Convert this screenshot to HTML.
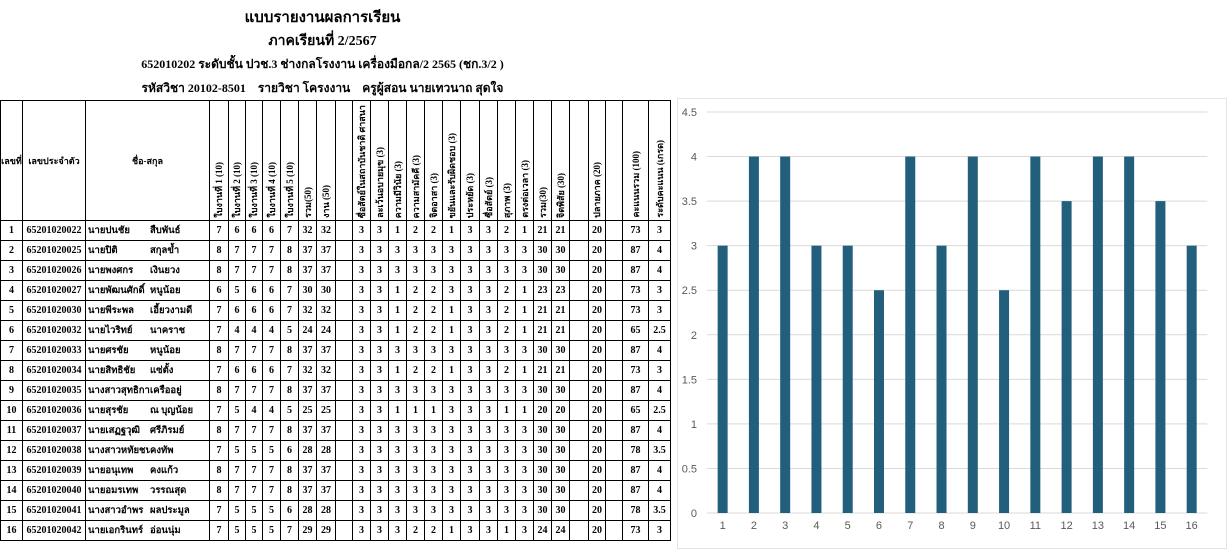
<!DOCTYPE html>
<html><head><meta charset="utf-8">
<style>
body{margin:0;width:1227px;height:549px;background:#fff;overflow:hidden;position:relative;font-family:"Liberation Serif","Noto Serif CJK SC",serif;}
.t{position:absolute;left:0;width:645px;text-align:center;font-weight:bold;color:#000;}
table{position:absolute;left:0;top:100px;border-collapse:collapse;table-layout:fixed;font-size:10px;font-weight:bold;font-family:"Liberation Serif","Noto Sans CJK SC",serif;}
td,th{border:1px solid #000;padding:0;text-align:center;height:19px;overflow:hidden;white-space:nowrap;}
th{height:119px;font-size:9px;vertical-align:bottom;}
th .v{writing-mode:vertical-rl;transform:rotate(180deg);display:inline-block;padding-bottom:2px;}
th.h{vertical-align:middle;}
td.n{text-align:left;padding-left:2px;font-size:9.5px;}
</style></head><body>
<div class="t" style="top:5px;font-size:15px">แบบรายงานผลการเรียน</div>
<div class="t" style="top:30px;font-size:14px">ภาคเรียนที่ 2/2567</div>
<div class="t" style="top:55px;font-size:12px">652010202 ระดับชั้น ปวช.3 ช่างกลโรงงาน เครื่องมือกล/2 2565 (ชก.3/2 )</div>
<div class="t" style="top:79px;font-size:12px">รหัสวิชา 20102-8501 &nbsp;&nbsp; รายวิชา โครงงาน &nbsp;&nbsp; ครูผู้สอน นายเทวนาถ สุดใจ</div>
<table id="tb">
<colgroup>
<col style="width:22px"><col style="width:63px"><col style="width:124px">
<col style="width:19px"><col style="width:17px"><col style="width:17px"><col style="width:18px"><col style="width:18px"><col style="width:18px"><col style="width:19px"><col style="width:17px">
<col style="width:18px"><col style="width:18px"><col style="width:18px"><col style="width:18px"><col style="width:18px"><col style="width:18px"><col style="width:19px"><col style="width:18px"><col style="width:18px"><col style="width:18px"><col style="width:18px"><col style="width:18px">
<col style="width:19px"><col style="width:17px"><col style="width:17px"><col style="width:26px"><col style="width:22px">
</colgroup>
<thead><tr>
<th class="h">เลขที่</th>
<th class="h">เลขประจำตัว</th>
<th class="h">ชื่อ-สกุล</th>
<th><span class="v">ใบงานที่ 1 (10)</span></th>
<th><span class="v">ใบงานที่ 2 (10)</span></th>
<th><span class="v">ใบงานที่ 3 (10)</span></th>
<th><span class="v">ใบงานที่ 4 (10)</span></th>
<th><span class="v">ใบงานที่ 5 (10)</span></th>
<th><span class="v">รวม(50)</span></th>
<th><span class="v">งาน (50)</span></th>
<th></th>
<th><span class="v">ซื่อสัตย์ในสถาบันชาติ ศาสนา</span></th>
<th><span class="v">ละเว้นอบายมุข (3)</span></th>
<th><span class="v">ความมีวินัย (3)</span></th>
<th><span class="v">ความสามัคคี (3)</span></th>
<th><span class="v">จิตอาสา (3)</span></th>
<th><span class="v">ขยันและรับผิดชอบ (3)</span></th>
<th><span class="v">ประหยัด (3)</span></th>
<th><span class="v">ซื่อสัตย์ (3)</span></th>
<th><span class="v">สุภาพ (3)</span></th>
<th><span class="v">ตรงต่อเวลา (3)</span></th>
<th><span class="v">รวม(30)</span></th>
<th><span class="v">จิตพิสัย (30)</span></th>
<th></th>
<th><span class="v">ปลายภาค (20)</span></th>
<th></th>
<th><span class="v">คะแนนรวม (100)</span></th>
<th><span class="v">ระดับคะแนน (เกรด)</span></th>
</tr></thead>
<tbody id="tbody"></tbody>
</table>

<svg id="chart" style="position:absolute;left:677px;top:98px" width="550" height="451">
<rect x="0.5" y="0.5" width="549" height="450" fill="#fff" stroke="#e4e4e4"/>
<g id="grid"></g><g id="bars"></g><g id="labels"></g>
</svg>

<script>
const rowsNo=[1,2,3,4,5,6,7,8,9,10,11,12,13,14,15,16];
const ids=["65201020022","65201020025","65201020026","65201020027","65201020030","65201020032","65201020033","65201020034","65201020035","65201020036","65201020037","65201020038","65201020039","65201020040","65201020041","65201020042"];
const firstNames=["นายปนชัย","นายปิติ","นายพงศกร","นายพัฒนศักดิ์","นายพีระพล","นายไวริทย์","นายศรชัย","นายสิทธิชัย","นางสาวสุทธิกาท","นายสุรชัย","นายเสฏฐวุฒิ","นางสาวหทัยชน","นายอนุเทพ","นายอมรเทพ","นางสาวอำพร","นายเอกรินทร์"];
const lastNames=["สืบพันธ์","สกุลข้ำ","เงินยวง","หนูน้อย","เอี้ยวงามดี","นาคราช","หนูน้อย","แซ่ตั้ง","เครืออยู่","ณ บุญน้อย","ศรีภิรมย์","คงทัพ","คงแก้ว","วรรณสุด","ผลประมูล","อ่อนนุ่ม"];
const scoreRows=[
[7,6,6,6,7,32,32,"",3,3,1,2,2,1,3,3,2,1,21,21,"",20,"",73,3],
[8,7,7,7,8,37,37,"",3,3,3,3,3,3,3,3,3,3,30,30,"",20,"",87,4],
[8,7,7,7,8,37,37,"",3,3,3,3,3,3,3,3,3,3,30,30,"",20,"",87,4],
[6,5,6,6,7,30,30,"",3,3,1,2,2,3,3,3,2,1,23,23,"",20,"",73,3],
[7,6,6,6,7,32,32,"",3,3,1,2,2,1,3,3,2,1,21,21,"",20,"",73,3],
[7,4,4,4,5,24,24,"",3,3,1,2,2,1,3,3,2,1,21,21,"",20,"",65,2.5],
[8,7,7,7,8,37,37,"",3,3,3,3,3,3,3,3,3,3,30,30,"",20,"",87,4],
[7,6,6,6,7,32,32,"",3,3,1,2,2,1,3,3,2,1,21,21,"",20,"",73,3],
[8,7,7,7,8,37,37,"",3,3,3,3,3,3,3,3,3,3,30,30,"",20,"",87,4],
[7,5,4,4,5,25,25,"",3,3,1,1,1,3,3,3,1,1,20,20,"",20,"",65,2.5],
[8,7,7,7,8,37,37,"",3,3,3,3,3,3,3,3,3,3,30,30,"",20,"",87,4],
[7,5,5,5,6,28,28,"",3,3,3,3,3,3,3,3,3,3,30,30,"",20,"",78,3.5],
[8,7,7,7,8,37,37,"",3,3,3,3,3,3,3,3,3,3,30,30,"",20,"",87,4],
[8,7,7,7,8,37,37,"",3,3,3,3,3,3,3,3,3,3,30,30,"",20,"",87,4],
[7,5,5,5,6,28,28,"",3,3,3,3,3,3,3,3,3,3,30,30,"",20,"",78,3.5],
[7,5,5,5,7,29,29,"",3,3,3,2,2,1,3,3,1,3,24,24,"",20,"",73,3]];
const tb=document.getElementById('tbody');
rowsNo.forEach((n,i)=>{
  const tr=document.createElement('tr');
  
  
  tr.innerHTML='<td>'+n+'</td><td>'+ids[i]+'</td><td class="n"><span style="display:inline-block;width:62px;overflow:hidden;vertical-align:bottom">'+firstNames[i]+'</span>'+lastNames[i]+'</td>';
  scoreRows[i].forEach(v=>{const td=document.createElement('td');td.textContent=v;tr.appendChild(td);});
  tb.appendChild(tr);
});

const cats=["1","2","3","4","5","6","7","8","9","10","11","12","13","14","15","16"];
const grades=[3,4,4,3,3,2.5,4,3,4,2.5,4,3.5,4,4,3.5,3];
const yTicks=[0,0.5,1,1.5,2,2.5,3,3.5,4,4.5];
const NS='http://www.w3.org/2000/svg';
const y0=415,yTop=14,yMax=4.5;
const x0=30,step=31.27;
const yS=v=>y0-(v/yMax)*(y0-yTop);
const xS=i=>x0+step*(i+0.5);
const grid=document.getElementById('grid'),bars=document.getElementById('bars'),labels=document.getElementById('labels');
yTicks.forEach(t=>{
  const l=document.createElementNS(NS,'line');
  
  
  l.setAttribute('x1',x0);l.setAttribute('x2',x0+step*cats.length);
  l.setAttribute('y1',yS(t));l.setAttribute('y2',yS(t));
  l.setAttribute('stroke','#d9d9d9');grid.appendChild(l);
  const tx=document.createElementNS(NS,'text');
  
  
  tx.setAttribute('x',x0-10);tx.setAttribute('y',yS(t)+4);tx.setAttribute('text-anchor','end');
  tx.setAttribute('font-size','11');tx.setAttribute('fill','#595959');tx.setAttribute('font-family','Liberation Sans, sans-serif');
  tx.textContent=t;labels.appendChild(tx);
});
cats.forEach((c,i)=>{
  const r=document.createElementNS(NS,'rect');
  
  
  r.setAttribute('x',xS(i)-5);r.setAttribute('width',10);
  r.setAttribute('y',yS(grades[i]));r.setAttribute('height',y0-yS(grades[i]));
  r.setAttribute('fill','#215f7d');bars.appendChild(r);
  const tx=document.createElementNS(NS,'text');
  
  
  tx.setAttribute('x',xS(i));tx.setAttribute('y',y0+16);tx.setAttribute('text-anchor','middle');
  tx.setAttribute('font-size','11');tx.setAttribute('fill','#595959');tx.setAttribute('font-family','Liberation Sans, sans-serif');
  tx.textContent=c;labels.appendChild(tx);
});
</script>
</body></html>
